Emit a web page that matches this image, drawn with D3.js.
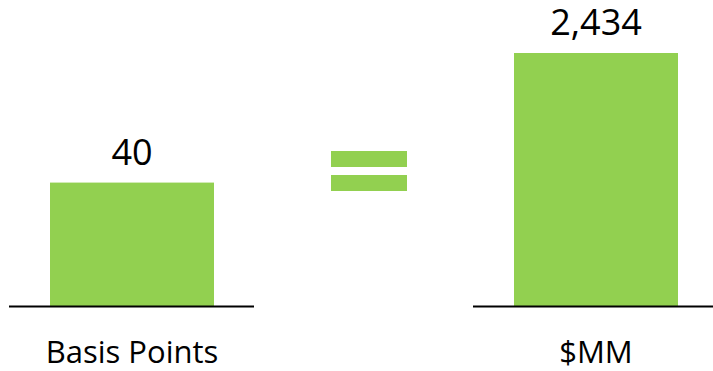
<!DOCTYPE html>
<html>
<head>
<meta charset="utf-8">
<script src="https://cdn.jsdelivr.net/npm/d3@7"></script>
<style>
  html, body { margin: 0; padding: 0; background: #fff; }
  svg { display: block; }
  text { font-family: "Open Sans", sans-serif; fill: #000; }
</style>
</head>
<body>
<svg id="chart" width="713" height="371"></svg>
<script>
// Each quantity is shown on its own panel with its own scale
const categories = ["Basis Points", "$MM"];
const values = [40, 2434];
const valueLabels = ["40", "2,434"];
const scaleMax = [82, 2434];

const W = 713, H = 371;
const svg = d3.select("#chart");
const green = "#92D050";

const baseY = 306;
const topY = 53;

// Panel geometry: baseline extents and bar extents
const panels = [
  { x0: 9, x1: 254, bx0: 50, bx1: 214 },
  { x0: 473, x1: 713, bx0: 514, bx1: 678 }
];

panels.forEach((p, i) => {
  const g = svg.append("g");
  const y = d3.scaleLinear().domain([0, scaleMax[i]]).range([baseY, topY]);
  const x = d3.scaleBand().domain([categories[i]]).range([p.bx0, p.bx1]).padding(0);

  g.append("rect")
    .attr("x", x(categories[i]))
    .attr("width", x.bandwidth())
    .attr("y", y(values[i]))
    .attr("height", baseY - y(values[i]))
    .attr("fill", green);

  g.append("line")
    .attr("x1", p.x0).attr("x2", p.x1)
    .attr("y1", baseY + 0.5).attr("y2", baseY + 0.5)
    .attr("stroke", "#000").attr("stroke-width", 2);

  const cx = x(categories[i]) + x.bandwidth() / 2;

  g.append("text")
    .attr("x", cx)
    .attr("y", y(values[i]) - 18)
    .attr("text-anchor", "middle")
    .style("font-size", "36px")
    .text(valueLabels[i]);

  g.append("text")
    .attr("x", cx)
    .attr("y", 363)
    .attr("text-anchor", "middle")
    .style("font-size", "31px")
    .text(categories[i]);
});

// Equals sign between the panels
const eq = svg.append("g");
eq.append("rect").attr("x", 331).attr("y", 151).attr("width", 76).attr("height", 16).attr("fill", green);
eq.append("rect").attr("x", 331).attr("y", 175).attr("width", 76).attr("height", 16).attr("fill", green);
</script>
</body>
</html>
